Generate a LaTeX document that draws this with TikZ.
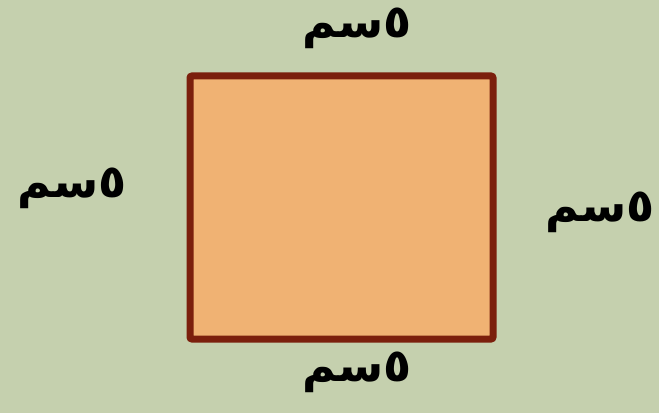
\documentclass[tikz,border=0pt]{standalone}
\usepackage{fontspec}
\newfontfamily\arabicfont[Script=Arabic]{DejaVu Sans}
\TeXXeTstate=1
\definecolor{bg}{HTML}{C5D0AE}
\definecolor{sqfill}{HTML}{F0B273}
\definecolor{sqedge}{HTML}{7B1F0C}
\tikzset{lbl/.style={font=\arabicfont\bfseries\fontsize{46}{52}\selectfont, inner sep=0pt}}
\begin{document}
\begin{tikzpicture}[x=1pt,y=1pt]
\fill[bg] (0,0) rectangle (659,413);
\useasboundingbox (0,0) rectangle (659,413);
\node[draw=sqedge, fill=sqfill, line width=7pt, rounded corners=2pt, minimum width=303pt, minimum height=263pt, inner sep=0pt] (sq) at (341.5,205.5) {};
\node[lbl] (top) at (357,385) {\beginR ٥سم\endR};
\node[lbl] (left) at (72,225) {\beginR ٥سم\endR};
\node[lbl] (right) at (600,201) {\beginR ٥سم\endR};
\node[lbl] (bottom) at (357,41) {\beginR ٥سم\endR};
\end{tikzpicture}
\end{document}
